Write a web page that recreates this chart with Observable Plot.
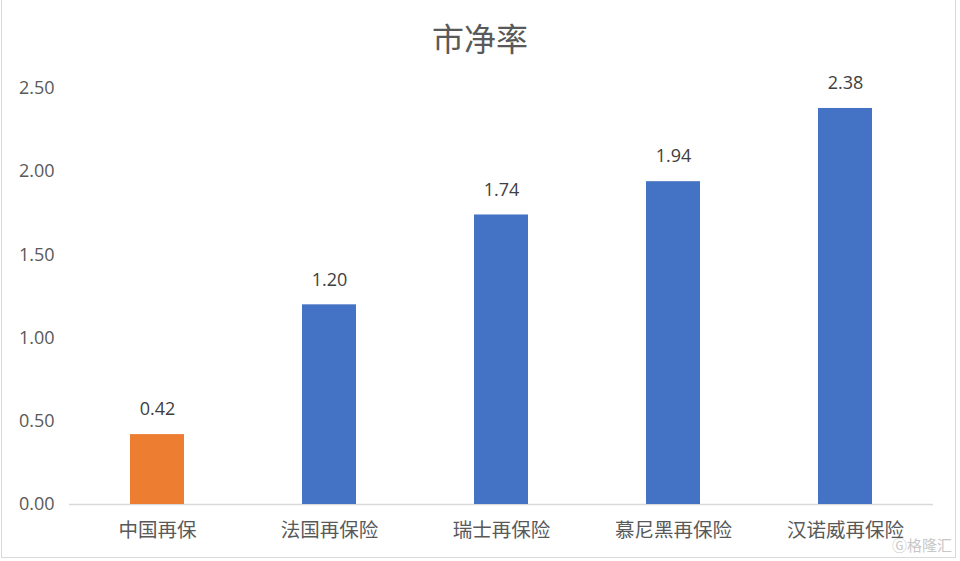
<!DOCTYPE html>
<html>
<head>
<meta charset="utf-8">
<script src="https://cdn.jsdelivr.net/npm/d3@7"></script>
<script src="https://cdn.jsdelivr.net/npm/@observablehq/plot@0.6"></script>
<style>
  html, body { margin: 0; padding: 0; background: #fff; }
  #wrap { position: relative; width: 960px; height: 561px; overflow: hidden; font-family: "Open Sans", "Noto Sans CJK SC", sans-serif; }
  #title { position: absolute; left: 0; top: 16px; width: 960px; text-align: center; font-size: 32px; line-height: 42px; color: #595959; font-family: "Noto Sans CJK SC", sans-serif; font-weight: 400; }
  #chart { position: absolute; left: 0; top: 70px; }
  #frame { position: absolute; left: 1px; top: -2px; width: 955px; height: 560px; border: 1.5px solid #d9d9d9; box-sizing: border-box; pointer-events: none; }
  #wm { position: absolute; right: 8px; bottom: 6px; font-size: 15px; color: #c8c8c8; font-family: "Noto Sans CJK SC", sans-serif; }
</style>
</head>
<body>
<div id="wrap">
  <div id="title">市净率</div>
  <div id="chart"></div>
  <div id="frame"></div>
  <div id="wm">Ⓖ格隆汇</div>
</div>
<script>
const categories = ["中国再保", "法国再保险", "瑞士再保险", "慕尼黑再保险", "汉诺威再保险"];
const values = [0.42, 1.20, 1.74, 1.94, 2.38];
const yTicks = [0, 0.5, 1.0, 1.5, 2.0, 2.5];
const highlighted = "中国再保";

const data = categories.map((c, i) => ({category: c, value: values[i]}));
const fmt = d3.format(".2f");

const chart = Plot.plot({
  width: 960,
  height: 491,
  marginLeft: 69,
  marginRight: 27,
  marginTop: 18,
  marginBottom: 57,
  style: {fontFamily: '"Open Sans", "Noto Sans CJK SC", sans-serif', background: "transparent"},
  x: {domain: categories, paddingInner: 0.6875, paddingOuter: 0.34375, label: null},
  y: {domain: [0, 2.5], label: null},
  marks: [
    Plot.ruleY([0], {stroke: "#d9d9d9", strokeWidth: 1.5}),
    Plot.barY(data, {x: "category", y: "value", fill: d => d.category === highlighted ? "#ED7D31" : "#4472C4"}),
    Plot.text(data, {x: "category", y: "value", text: d => fmt(d.value), dy: -25, fontSize: 18, fill: "#404040"}),
    Plot.axisX({tickSize: 0, tickPadding: 19, fontSize: 19.5, fill: "#595959", fontFamily: '"Noto Sans CJK SC", sans-serif'}),
    Plot.axisY({ticks: yTicks, tickFormat: fmt, tickSize: 0, tickPadding: 15, fontSize: 18, fill: "#595959"})
  ]
});
document.getElementById("chart").appendChild(chart);
</script>
</body>
</html>
